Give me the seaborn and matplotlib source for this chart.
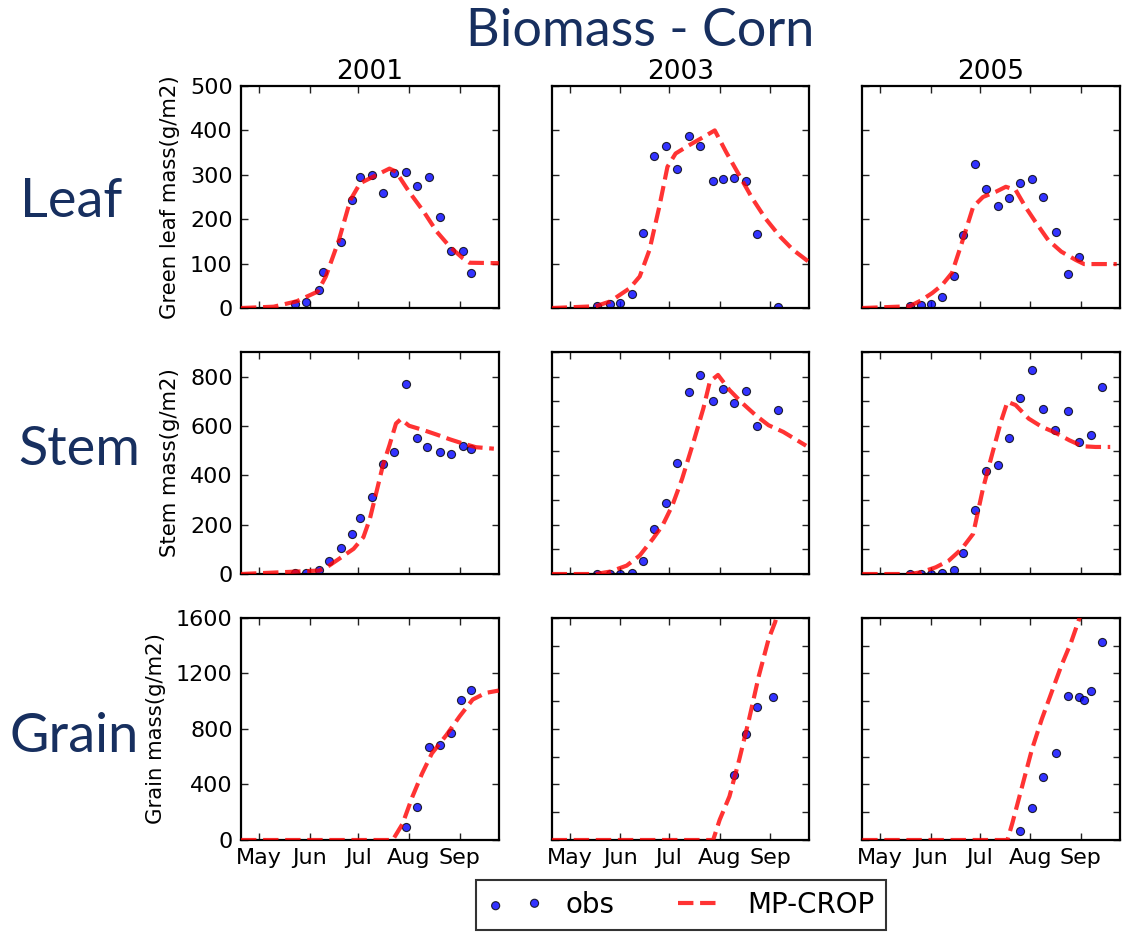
import matplotlib
matplotlib.use("Agg")
import matplotlib.pyplot as plt
import seaborn as sns

# ---------------- data (day of year, g/m2) ----------------
years = ["2001", "2003", "2005"]
organs = ["Leaf", "Stem", "Grain"]
ylabels = ["Green leaf mass(g/m2)", "Stem mass(g/m2)", "Grain mass(g/m2)"]
month_ticks = [121, 152, 182, 213, 244]
month_labels = ["May", "Jun", "Jul", "Aug", "Sep"]

# Leaf
leaf01_obs_doy = [143, 150, 158, 160, 171, 178, 183, 190, 197, 204, 211, 218, 225, 232, 239, 246, 251]
leaf01_obs_val = [10, 14, 40, 81, 149, 244, 296, 299, 258, 304, 306, 275, 294, 206, 129, 129, 79]
leaf01_mod_doy = [110, 130, 144, 157, 162, 170, 177, 183, 189, 201, 205, 213, 222, 230, 238, 246, 250, 268]
leaf01_mod_val = [0, 3, 15, 37, 71, 153, 243, 281, 292, 314, 307, 262, 217, 172, 138, 112, 102, 101]

leaf03_obs_doy = [138, 146, 152, 159, 166, 173, 180, 187, 194, 201, 209, 215, 222, 229, 236, 249]
leaf03_obs_val = [4, 10, 12, 31, 170, 343, 366, 313, 387, 366, 287, 291, 293, 286, 167, 1.5]
leaf03_mod_doy = [110, 137, 146, 158, 164, 170, 176, 181, 186, 194, 203, 210, 217, 225, 233, 241, 250, 258, 268]
leaf03_mod_val = [0, 4, 15, 45, 71, 131, 228, 318, 348, 366, 385, 400, 351, 299, 247, 202, 161, 131, 103]

leaf05_obs_doy = [139, 146, 152, 159, 166, 172, 179, 186, 193, 200, 207, 214, 221, 229, 236, 243]
leaf05_obs_val = [4, 7, 8, 24, 71, 165, 325, 269, 229, 248, 281, 290, 251, 171, 76, 116]
leaf05_mod_doy = [110, 139, 146, 153, 159, 165, 171, 178, 184, 192, 198, 204, 210, 216, 224, 232, 241, 246, 266]
leaf05_mod_val = [0, 4, 17, 34, 52, 79, 146, 228, 250, 262, 273, 266, 228, 195, 153, 127, 108, 99, 99]

# Stem
stem01_obs_doy = [143, 150, 158, 164, 171, 178, 183, 190, 197, 204, 211, 218, 224, 232, 239, 246, 251]
stem01_obs_val = [3, 4, 15, 53, 106, 161, 226, 312, 447, 495, 769, 553, 513, 494, 487, 517, 506]
stem01_mod_doy = [110, 158, 164, 170, 179, 185, 189, 193, 197, 201, 205, 208, 213, 222, 230, 238, 246, 254, 265]
stem01_mod_val = [0, 14, 34, 61, 102, 149, 224, 332, 441, 522, 610, 628, 601, 583, 565, 546, 529, 514, 508]

stem03_obs_doy = [138, 146, 152, 159, 166, 173, 180, 187, 194, 201, 209, 215, 222, 229, 236, 249]
stem03_obs_val = [0, 1, 1, 5, 54, 182, 287, 452, 738, 807, 701, 751, 692, 740, 598, 663]
stem03_mod_doy = [110, 137, 146, 156, 164, 172, 178, 184, 190, 197, 203, 207, 212, 219, 227, 235, 243, 252, 266]
stem03_mod_val = [0, 0, 10, 34, 75, 142, 197, 278, 386, 536, 671, 780, 807, 746, 692, 644, 603, 576, 520]

stem05_obs_doy = [139, 146, 152, 159, 166, 172, 179, 186, 193, 200, 207, 214, 221, 228, 236, 243, 250, 257]
stem05_obs_val = [0, 0, 0, 5, 18, 87, 259, 419, 443, 551, 715, 826, 667, 582, 660, 536, 563, 757]
stem05_mod_doy = [110, 139, 146, 155, 163, 171, 178, 184, 190, 195, 199, 204, 212, 220, 228, 237, 245, 253, 262]
stem05_mod_val = [0, 0, 7, 27, 54, 102, 163, 346, 495, 617, 698, 685, 630, 597, 574, 542, 518, 515, 515]

# Grain
grain01_obs_doy = [211, 218, 225, 232, 239, 245, 251]
grain01_obs_val = [92, 237, 670, 685, 770, 1009, 1080]
grain01_mod_doy = [110, 203, 209, 215, 221, 227, 236, 244, 252, 260, 268]
grain01_mod_val = [0, 0, 116, 310, 479, 624, 758, 891, 1012, 1060, 1077]

grain03_obs_doy = [222, 229, 236, 246]
grain03_obs_val = [470, 763, 958, 1028]
grain03_mod_doy = [110, 209, 213, 219, 225, 231, 237, 243, 247, 250]
grain03_mod_val = [0, 0, 145, 314, 579, 869, 1182, 1448, 1570, 1700]

grain05_obs_doy = [207, 214, 221, 229, 236, 243, 246, 250, 257]
grain05_obs_val = [65, 232, 454, 627, 1035, 1028, 1011, 1076, 1424]
grain05_mod_doy = [110, 199, 202, 208, 214, 220, 226, 232, 238, 243, 246]
grain05_mod_val = [0, 0, 121, 386, 652, 869, 1062, 1255, 1424, 1593, 1700]

obs = [[(leaf01_obs_doy, leaf01_obs_val), (leaf03_obs_doy, leaf03_obs_val), (leaf05_obs_doy, leaf05_obs_val)],
       [(stem01_obs_doy, stem01_obs_val), (stem03_obs_doy, stem03_obs_val), (stem05_obs_doy, stem05_obs_val)],
       [(grain01_obs_doy, grain01_obs_val), (grain03_obs_doy, grain03_obs_val), (grain05_obs_doy, grain05_obs_val)]]
mod = [[(leaf01_mod_doy, leaf01_mod_val), (leaf03_mod_doy, leaf03_mod_val), (leaf05_mod_doy, leaf05_mod_val)],
       [(stem01_mod_doy, stem01_mod_val), (stem03_mod_doy, stem03_mod_val), (stem05_mod_doy, stem05_mod_val)],
       [(grain01_mod_doy, grain01_mod_val), (grain03_mod_doy, grain03_mod_val), (grain05_mod_doy, grain05_mod_val)]]

ymax = [500, 900, 1600]
yticks_first = [list(range(0, 501, 100)), list(range(0, 801, 200)), list(range(0, 1601, 400))]
yticks_other = [list(range(0, 501, 100)), list(range(0, 901, 100)), list(range(0, 1601, 200))]

# ---------------- style ----------------
sns.set_theme(style="ticks", rc={
    "xtick.direction": "in", "ytick.direction": "in",
    "xtick.top": True, "ytick.right": True,
    "xtick.major.size": 5, "ytick.major.size": 5,
    "xtick.major.width": 1.0, "ytick.major.width": 1.0,
    "xtick.major.pad": 6, "ytick.major.pad": 6,
    "axes.linewidth": 1.6, "axes.edgecolor": "black",
    "xtick.color": "#222222", "ytick.color": "#222222",
    "xtick.labelcolor": "black", "ytick.labelcolor": "black",
    "text.color": "black", "axes.labelcolor": "black",
})
plt.rcParams["font.family"] = ["DejaVu Sans"]

navy = "#172f5f"

fig, axes = plt.subplots(3, 3, figsize=(11.22, 9.33), dpi=100)
fig.subplots_adjust(left=241 / 1122, right=1120 / 1122, bottom=1 - 840 / 933, top=1 - 86 / 933,
                    wspace=0.205, hspace=0.198)

for r in range(3):
    for c in range(3):
        ax = axes[r, c]
        ox, oy = obs[r][c]
        mx, my = mod[r][c]
        sns.scatterplot(x=ox, y=oy, ax=ax, color="blue", alpha=0.8, s=34,
                        edgecolor="black", linewidth=0.8, zorder=2, legend=False)
        sns.lineplot(x=mx, y=my, ax=ax, color="red", alpha=0.8, linewidth=3,
                     zorder=3, legend=False)
        ax.lines[-1].set_linestyle("--")
        ax.set_xlim(110, 268)
        ax.set_ylim(0, ymax[r])
        ax.set_xticks(month_ticks)
        if r == 2:
            ax.set_xticklabels(month_labels, fontsize=16)
        else:
            ax.set_xticklabels([])
        if c == 0:
            ax.set_yticks(yticks_first[r])
            ax.set_yticklabels([str(v) for v in yticks_first[r]], fontsize=16)
            ax.set_ylabel(ylabels[r], fontsize=15.3, labelpad=7)
        else:
            ax.set_yticks(yticks_other[r])
            ax.set_yticklabels([])
            ax.set_ylabel("")
        ax.set_xlabel("")
        if r == 0:
            ax.set_title(years[c], fontsize=19, pad=5, color="black")
        for s in ax.spines.values():
            s.set_visible(True)
            s.set_color("black")

# big labels
fig.text(640 / 1122, 1 - 46 / 933, "Biomass - Corn", fontsize=37.5, color=navy,
         family=["Lato", "DejaVu Sans"], ha="center", va="baseline")
row_label_pos = [(20, 217), (18, 465), (10, 752)]
for name, (px, py) in zip(organs, row_label_pos):
    fig.text(px / 1122, 1 - py / 933, name, fontsize=39, color=navy,
             family=["Lato", "DejaVu Sans"], ha="left", va="baseline")

# legend
a0 = axes[0, 0]
leg = fig.legend([a0.collections[0], a0.lines[0]], ["obs", "MP-CROP"],
                 loc="center", bbox_to_anchor=(681 / 1122, 1 - 905 / 933),
                 ncol=2, fontsize=20, scatterpoints=2, numpoints=2,
                 handlelength=2.0, handletextpad=0.8, columnspacing=2.0,
                 fancybox=False, frameon=True, borderpad=0.4)
leg.get_frame().set_edgecolor("black")
leg.get_frame().set_linewidth(1.5)

fig.savefig("out.png", dpi=100)
